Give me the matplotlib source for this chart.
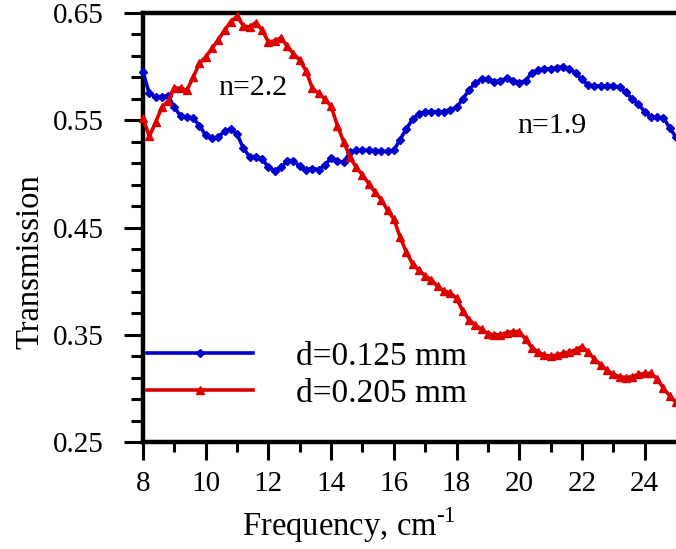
import matplotlib
matplotlib.use("Agg")
import matplotlib.pyplot as plt
import numpy as np

plt.rcParams['font.family'] = ['Liberation Serif', 'DejaVu Serif']
plt.rcParams['mathtext.fontset'] = 'custom'
plt.rcParams['mathtext.rm'] = 'Liberation Serif'

freq = [8.0, 8.2, 8.4, 8.6, 8.8, 9.0, 9.2, 9.4, 9.6, 9.8,
        10.0, 10.2, 10.4, 10.6, 10.8, 11.0, 11.2, 11.4, 11.6, 11.8,
        12.0, 12.2, 12.4, 12.6, 12.8, 13.0, 13.2, 13.4, 13.6, 13.8,
        14.0, 14.2, 14.4, 14.6, 14.8, 15.0, 15.2, 15.4, 15.6, 15.8,
        16.0, 16.2, 16.4, 16.6, 16.8, 17.0, 17.2, 17.4, 17.6, 17.8,
        18.0, 18.2, 18.4, 18.6, 18.8, 19.0, 19.2, 19.4, 19.6, 19.8,
        20.0, 20.2, 20.4, 20.6, 20.8, 21.0, 21.2, 21.4, 21.6, 21.8,
        22.0, 22.2, 22.4, 22.6, 22.8, 23.0, 23.2, 23.4, 23.6, 23.8,
        24.0, 24.2, 24.4, 24.6, 24.8, 25.0]

trans_d125 = [0.595, 0.575, 0.572, 0.572, 0.573, 0.562, 0.554, 0.553, 0.552, 0.545,
              0.536, 0.533, 0.534, 0.540, 0.542, 0.537, 0.524, 0.516, 0.516, 0.514,
              0.506, 0.503, 0.506, 0.512, 0.512, 0.507, 0.504, 0.505, 0.504, 0.508,
              0.515, 0.512, 0.511, 0.520, 0.522, 0.522, 0.522, 0.521, 0.521, 0.521,
              0.522, 0.532, 0.542, 0.551, 0.556, 0.558, 0.558, 0.558, 0.558, 0.560,
              0.562, 0.570, 0.578, 0.585, 0.588, 0.588, 0.586, 0.587, 0.589, 0.587,
              0.585, 0.587, 0.594, 0.597, 0.598, 0.598, 0.599, 0.600, 0.598, 0.594,
              0.588, 0.583, 0.582, 0.582, 0.582, 0.582, 0.581, 0.576, 0.570, 0.565,
              0.558, 0.553, 0.553, 0.552, 0.543, 0.534]

trans_d205 = [0.552, 0.535, 0.548, 0.562, 0.568, 0.580, 0.580, 0.578, 0.590, 0.603,
              0.609, 0.617, 0.625, 0.634, 0.642, 0.647, 0.638, 0.637, 0.641, 0.634,
              0.623, 0.624, 0.627, 0.619, 0.612, 0.606, 0.596, 0.580, 0.575, 0.570,
              0.563, 0.545, 0.530, 0.516, 0.506, 0.499, 0.491, 0.483, 0.476, 0.466,
              0.458, 0.441, 0.427, 0.416, 0.410, 0.405, 0.401, 0.395, 0.391, 0.389,
              0.384, 0.372, 0.364, 0.359, 0.355, 0.351, 0.350, 0.350, 0.352, 0.353,
              0.353, 0.346, 0.338, 0.334, 0.331, 0.330, 0.331, 0.333, 0.334, 0.336,
              0.339, 0.334, 0.327, 0.322, 0.317, 0.313, 0.311, 0.310, 0.311, 0.313,
              0.314, 0.314, 0.309, 0.300, 0.293, 0.287]

labels = ['d=0.125 mm', 'd=0.205 mm']
x_ticks = [8, 10, 12, 14, 16, 18, 20, 22, 24]
y_ticks = [0.25, 0.35, 0.45, 0.55, 0.65]
annotations = [('n=2.2', 11.5, 0.580), ('n=1.9', 21.05, 0.545)]

blue = '#0000CC'
red = '#DD0000'

fig = plt.figure(figsize=(6.76, 5.49), dpi=100)
ax = fig.add_axes([143/676, 1 - 442/549, 533/676, 429/549])

ax.plot(freq, trans_d125, color=blue, lw=2.6, marker='D', ms=4.5,
        mec=blue, mfc=blue, label=labels[0], clip_on=False, zorder=3)
ax.plot(freq, trans_d205, color=red, lw=2.6, marker='^', ms=6,
        mec=red, mfc=red, label=labels[1], clip_on=False, zorder=3)

ax.set_xlim(8, 25)
ax.set_ylim(0.25, 0.65)
ax.set_xticks(x_ticks)
ax.set_xticks(np.arange(9, 25, 2), minor=True)
ax.set_yticks(y_ticks)
ax.set_yticks(np.arange(0.27, 0.65, 0.02), minor=True)
ax.set_yticklabels([f'{v:.2f}' for v in y_ticks])

ax.tick_params(axis='both', which='major', direction='out', width=2.2,
               labelsize=21, colors='black')
ax.tick_params(axis='x', which='major', length=13, pad=8)
ax.tick_params(axis='x', which='minor', direction='out', length=7, width=2.2)
ax.tick_params(axis='y', which='major', length=14, pad=14)
ax.tick_params(axis='y', which='minor', direction='out', length=9, width=2.2)

ax.spines['right'].set_visible(False)
for s in ['left', 'bottom', 'top']:
    ax.spines[s].set_linewidth(3.2)

ax.set_xlabel('Frequency, cm$^{\\mathregular{\u2010}\\mathregular{1}}$', fontsize=23.5)
ax.xaxis.set_label_coords(206/533, (442 - 525)/429)
ax.xaxis.label.set_va('center')
ax.set_ylabel('Transmission', fontsize=23.5)
ax.yaxis.set_label_coords((30 - 143)/533, (442 - 262)/429)
ax.yaxis.label.set_va('center')

for txt, xv, yv in annotations:
    ax.text(xv, yv, txt, fontsize=21.5, ha='center', va='center')

leg = ax.legend(loc='center left', bbox_to_anchor=(0.007, (442 - 375)/429),
                frameon=False, fontsize=24, handlelength=3.2,
                handletextpad=1.27, labelspacing=0.2, borderpad=0,
                borderaxespad=0, numpoints=1)
for h in leg.legend_handles:
    h.set_linewidth(2.6)

fig.savefig('out.png', dpi=100)
